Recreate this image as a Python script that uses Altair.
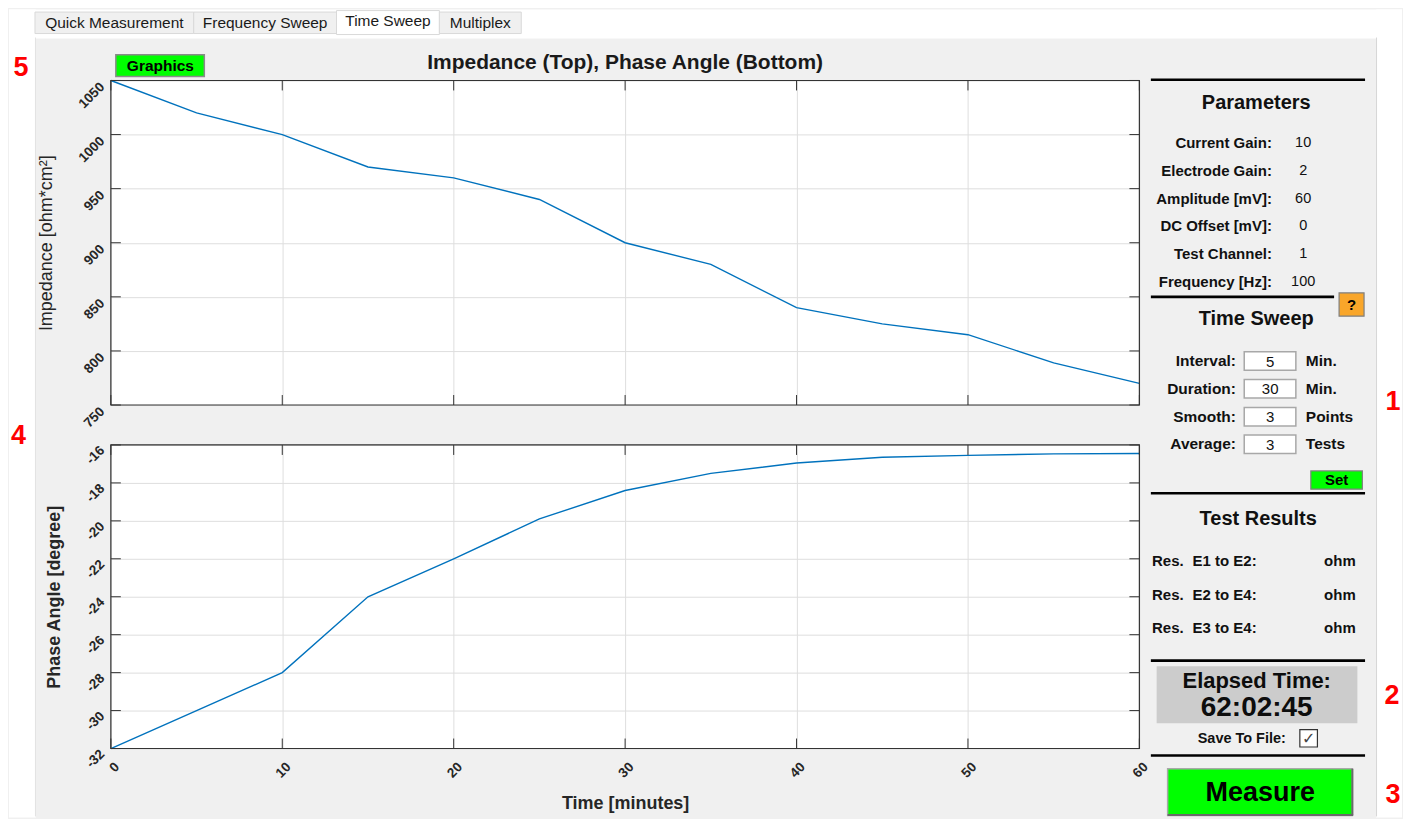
import altair as alt
import pandas as pd

# ---------------- data ----------------
time_min = [0, 5, 10, 15, 20, 25, 30, 35, 40, 45, 50, 55, 60]
impedance = [1050, 1020, 1000, 970, 960, 940, 900, 880, 840, 825, 815, 789, 770]
phase_angle = [-32, -30, -28, -24, -22, -19.9, -18.4, -17.5, -16.95, -16.65, -16.55, -16.47, -16.45]

time_ticks = [0, 10, 20, 30, 40, 50, 60]
impedance_ticks = [750, 800, 850, 900, 950, 1000, 1050]
phase_ticks = [-32, -30, -28, -26, -24, -22, -20, -18, -16]

chart_title = "Impedance (Top), Phase Angle (Bottom)"
impedance_title = "Impedance [ohm*cm²]"
phase_title = "Phase Angle [degree]"
time_title = "Time [minutes]"

tab_labels = ["Quick Measurement", "Frequency Sweep", "Time Sweep", "Multiplex"]
param_labels = ["Current Gain:", "Electrode Gain:", "Amplitude [mV]:", "DC Offset [mV]:",
                "Test Channel:", "Frequency [Hz]:"]
param_values = ["10", "2", "60", "0", "1", "100"]
sweep_labels = ["Interval:", "Duration:", "Smooth:", "Average:"]
sweep_values = ["5", "30", "3", "3"]
sweep_units = ["Min.", "Min.", "Points", "Tests"]
result_labels = ["E1 to E2:", "E2 to E4:", "E3 to E4:"]
result_unit = "ohm"
elapsed_time = "62:02:45"
callouts = ["5", "4", "1", "2", "3"]

# ---------------- layout (page pixels) ----------------
FONT = "Liberation Sans"
PL, PT = 110, 79          # top plot origin on the page
W, H1, GAP, H2 = 1030, 325, 40, 304
CH_L, CH_T, CH_R, CH_B = 9, 9, 1402, 816   # chart canvas on the page (inside a 1px white stroke)

def vx(px):
    return px - PL

def vy(py):
    return py - PT

one = pd.DataFrame({"k": [0]})

def box(x1, y1, x2, y2, **style):
    return alt.Chart(one).mark_rect(**style).encode(
        x=alt.value(vx(x1)), x2=alt.value(vx(x2)),
        y=alt.value(vy(y1)), y2=alt.value(vy(y2)))

def hline(x1, x2, y, color="#000000", width=1.0):
    return alt.Chart(one).mark_rule(color=color, strokeWidth=width).encode(
        x=alt.value(vx(x1)), x2=alt.value(vx(x2)), y=alt.value(vy(y)))

def vline(x, y1, y2, color="#000000", width=1.0):
    return alt.Chart(one).mark_rule(color=color, strokeWidth=width).encode(
        x=alt.value(vx(x)), y=alt.value(vy(y1)), y2=alt.value(vy(y2)))

def label(s, px, py, size=15, weight="bold", align="center", color="#111111", font=FONT):
    return alt.Chart(one).mark_text(
        text=s, fontSize=size, fontWeight=weight, align=align, baseline="middle",
        color=color, font=font).encode(x=alt.value(vx(px)), y=alt.value(vy(py)))

# ---------------- background decorations ----------------
back = [
    box(CH_L, CH_T, CH_R, 36, fill="white", stroke="white", strokeWidth=2),     # tab strip
    box(CH_L, CH_T, 34, CH_B, fill="white", stroke="white", strokeWidth=2),     # left margin
    box(1378, CH_T, CH_R, CH_B, fill="white", stroke="white", strokeWidth=2),   # right margin
    vline(1377.5, 36, CH_B, color="#d6d6d6"),
    vline(34.5, 36, CH_B, color="#e2e2e2"),
]
tab_geom = [(34, 193), (193, 336), (336, 439), (439, 521)]
for lab, (x1, x2) in zip(tab_labels, tab_geom):
    if lab == "Time Sweep":
        back.append(box(x1, 9, x2, 33, fill="white", stroke="#d9d9d9", strokeWidth=1))
        back.append(label(lab, (x1 + x2) / 2, 19, size=15.5, weight="normal", color="#1a1a1a"))
    else:
        back.append(box(x1, 10.5, x2, 32, fill="#f0f0f0", stroke="#d9d9d9", strokeWidth=1))
        back.append(label(lab, (x1 + x2) / 2, 21, size=15.5, weight="normal", color="#1a1a1a"))

# ---------------- plots ----------------
top_df = pd.DataFrame({"t": time_min, "imp": impedance})
bot_df = pd.DataFrame({"t": time_min, "ph": phase_angle})

LINE = "#0072BD"
GRID = "#dedede"
BOX = "#333333"
TICK_LEN = 10

lab_style = dict(labelFont=FONT, labelFontSize=13.5, labelFontWeight="bold", labelColor="#262626",
                 labelFlush=False, labelOverlap=False, gridColor=GRID, gridWidth=1,
                 domain=False, ticks=False, tickCount=40, labelExpr="datum.value + ''")

x_top = alt.X("t:Q", scale=alt.Scale(domain=[0, 60], nice=False),
              axis=alt.Axis(values=time_ticks, tickCount=40, labels=False, ticks=False, domain=False,
                            grid=True, gridColor=GRID, title=None))
y_top = alt.Y("imp:Q", scale=alt.Scale(domain=[750, 1050], nice=False, zero=False),
              axis=alt.Axis(values=impedance_ticks, grid=True, labelAngle=-45, labelAlign="right",
                            labelBaseline="middle", labelPadding=9, labelOffset=4,
                            title=impedance_title, titleFont=FONT, titleFontSize=18,
                            titleFontWeight="normal", titleColor="#262626", titleAngle=-90,
                            titleX=-64, titleY=H1 / 2, titleAlign="center", titleBaseline="middle",
                            **lab_style))

x_bot = alt.X("t:Q", scale=alt.Scale(domain=[0, 60], nice=False),
              axis=alt.Axis(values=time_ticks, grid=True, labelAngle=-45, labelAlign="right",
                            labelBaseline="middle", labelPadding=16, labelOffset=6,
                            title=time_title, titleFont=FONT, titleFontSize=18, titleFontWeight="bold",
                            titleColor="#262626", titleX=W / 2, titleY=55, titleAlign="center",
                            titleBaseline="middle", **lab_style))
y_bot = alt.Y("ph:Q", scale=alt.Scale(domain=[-32, -16], nice=False, zero=False),
              axis=alt.Axis(values=phase_ticks, grid=True, labelAngle=-45, labelAlign="right",
                            labelBaseline="middle", labelPadding=9, labelOffset=3,
                            title=phase_title, titleFont=FONT, titleFontSize=18,
                            titleFontWeight="bold", titleColor="#262626", titleAngle=-90,
                            titleX=-56, titleY=H2 / 2, titleAlign="center", titleBaseline="middle",
                            **lab_style))


def frame_layers(xfield, yfield, xticks, yticks, h):
    xt = pd.DataFrame({xfield: xticks})
    yt = pd.DataFrame({yfield: yticks})
    return [
        alt.Chart(xt).mark_rule(color=BOX, strokeWidth=1).encode(
            x=f"{xfield}:Q", y=alt.value(0), y2=alt.value(TICK_LEN)),
        alt.Chart(xt).mark_rule(color=BOX, strokeWidth=1).encode(
            x=f"{xfield}:Q", y=alt.value(h - TICK_LEN), y2=alt.value(h)),
        alt.Chart(yt).mark_rule(color=BOX, strokeWidth=1).encode(
            y=f"{yfield}:Q", x=alt.value(0), x2=alt.value(TICK_LEN)),
        alt.Chart(yt).mark_rule(color=BOX, strokeWidth=1).encode(
            y=f"{yfield}:Q", x=alt.value(W - TICK_LEN), x2=alt.value(W)),
        alt.Chart(one).mark_rect(fill="white", fillOpacity=0, stroke=BOX, strokeWidth=1.2).encode(
            x=alt.value(0), x2=alt.value(W), y=alt.value(0), y2=alt.value(h)),
    ]

top_line = alt.Chart(top_df).mark_line(color=LINE, strokeWidth=1.4).encode(x=x_top, y=y_top)
bot_line = alt.Chart(bot_df).mark_line(color=LINE, strokeWidth=1.4).encode(x=x_bot, y=y_bot)

# ---------------- foreground decorations ----------------
front = [
    label(chart_title, 625, 62, size=21, color="#1a1a1a"),
    box(115, 53.3, 203.6, 75, fill="#00ff00", stroke="#8a8a8a", strokeWidth=1.5),
    label("Graphics", 159.6, 64.2, size=15.5, color="#000000"),
]
# red call-out numbers
for s, (px, py) in zip(callouts, [(20, 67), (17.5, 435), (1394, 401), (1393, 695), (1394, 795)]):
    front.append(label(s, px, py, size=27, color="#ff0000"))

# side panel separators
for y, x2 in [(78.3, 1366), (295.7, 1335), (492.3, 1366), (660, 1366), (755, 1366)]:
    front.append(hline(1151.5, x2, y, color="#000000", width=2.6))

# Parameters
front.append(label("Parameters", 1257, 102, size=20))
for lab, val, y in zip(param_labels, param_values, [141.7, 169.3, 197.3, 225, 252.7, 280.7]):
    front.append(label(lab, 1272.7, y, size=15, align="right"))
    front.append(label(val, 1304, y, size=14.5, weight="normal"))

# Time sweep
front.append(box(1340, 291.7, 1365, 315, fill="#f9a62a", stroke="#7f7f7f", strokeWidth=1.2))
front.append(label("?", 1352.5, 303.5, size=15, color="#000000"))
front.append(label("Time Sweep", 1257, 318.3, size=20))
for lab, val, unit, y in zip(sweep_labels, sweep_values, sweep_units, [360, 387.7, 415.7, 443.3]):
    front.append(label(lab, 1236.7, y, size=15.5, align="right"))
    front.append(box(1245, y - 9.3, 1296.7, y + 9.3, fill="white", stroke="#a8a8a8", strokeWidth=1.5))
    front.append(label(val, 1271, y + 0.5, size=15, weight="normal"))
    front.append(label(unit, 1306.7, y, size=15.5, align="left"))
front.append(box(1311.7, 470, 1363.3, 488.3, fill="#00ff00", stroke="#808080", strokeWidth=1.2))
front.append(label("Set", 1337.5, 479.5, size=15, color="#000000"))

# Test results
front.append(label("Test Results", 1259, 518.3, size=20))
for lab, y in zip(result_labels, [560.7, 594, 627.3]):
    front.append(label("Res.", 1152.7, y, size=15, align="left"))
    front.append(label(lab, 1193.3, y, size=15, align="left"))
    front.append(label(result_unit, 1325, y, size=15, align="left"))

# Elapsed time
front.append(box(1157.3, 665.7, 1358.3, 722.7, fill="#cccccc"))
front.append(label("Elapsed Time:", 1257.5, 680.5, size=22, color="#0d0d0d"))
front.append(label(elapsed_time, 1257.5, 707, size=28, color="#0d0d0d"))
front.append(label("Save To File:", 1286.7, 738.3, size=14.5, align="right"))
front.append(box(1300.7, 729, 1318.3, 746.5, fill="white", stroke="#333333", strokeWidth=1.2))
front.append(label("✓", 1309.5, 738, size=16, weight="normal", color="#444444", font="DejaVu Sans"))

# Measure button
front.append(box(1168.3, 768.3, 1353.3, 815, fill="#00ff00", stroke="#a8a8a8", strokeWidth=1.5))
front.append(hline(1168.3, 1354, 814.5, color="#6a6a6a", width=2))
front.append(vline(1353.3, 768.3, 815, color="#6a6a6a", width=2))
front.append(label("Measure", 1261, 793, size=27, color="#000000"))

top = alt.layer(*back, top_line,
                *frame_layers("t", "imp", time_ticks, impedance_ticks, H1),
                *front).properties(width=W, height=H1)
bottom = alt.layer(bot_line,
                   *frame_layers("t", "ph", time_ticks, phase_ticks, H2)).properties(width=W, height=H2)

chart = alt.vconcat(top, bottom, spacing=GAP, bounds="flush").properties(
    padding=0
).configure(
    background="#f0f0f0", font=FONT
).configure_view(
    fill="white", stroke="transparent"
)

chart.save("out.html", embed_options={"renderer": "svg", "actions": False})
